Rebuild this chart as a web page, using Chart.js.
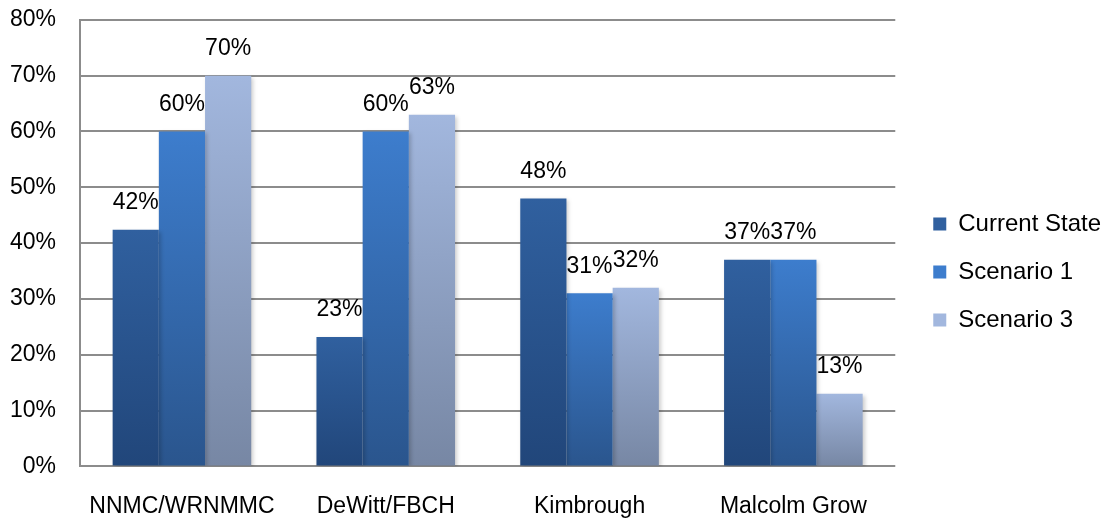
<!DOCTYPE html>
<html>
<head>
<meta charset="utf-8">
<script src="https://cdn.jsdelivr.net/npm/chart.js@4"></script>
<style>
  html, body { margin: 0; padding: 0; background: #fff; }
  #wrap { position: relative; width: 1107px; height: 521px; overflow: hidden; }
  #area { position: absolute; left: -14px; top: -18px; width: 1119px; height: 556px; }
</style>
</head>
<body>
<div id="wrap"><div id="area"><canvas id="grafico"></canvas></div></div>
<script>
const categorias = ['NNMC/WRNMMC', 'DeWitt/FBCH', 'Kimbrough', 'Malcolm Grow'];
const currentState = [42.4, 23.2, 48, 37];
const scenario1 = [60, 60, 31, 37];
const scenario3 = [70, 63, 32, 13];
const yTicks = [0, 10, 20, 30, 40, 50, 60, 70, 80];

const fonte = '"Liberation Sans", Arial, sans-serif';

// top / bottom colours of each series gradient
const cores = {
    current: ['#30609f', '#21467a'],
    s1: ['#3d7dcd', '#2a558d'],
    s3: ['#a2b7de', '#7787a4']
};

function gradiente(par) {
    return function(context) {
        const chart = context.chart;
        if (!chart.chartArea || context.parsed === undefined) return par[0];
        const y = chart.scales.y;
        const top = y.getPixelForValue(context.parsed.y);
        const base = y.getPixelForValue(0);
        if (!isFinite(top) || base - top < 1) return par[0];
        const g = chart.ctx.createLinearGradient(0, top, 0, base);
        g.addColorStop(0, par[0]);
        g.addColorStop(1, par[1]);
        return g;
    };
}

const rotulos = {
    id: 'rotulos',
    afterDatasetsDraw(chart) {
        const ctx = chart.ctx;
        ctx.save();
        ctx.font = '23px ' + fonte;
        ctx.fillStyle = '#000';
        ctx.textAlign = 'center';
        ctx.textBaseline = 'middle';
        chart.data.datasets.forEach((ds, i) => {
            chart.getDatasetMeta(i).data.forEach((bar, j) => {
                ctx.fillText(Math.round(ds.data[j]) + '%', bar.x, bar.y - 27);
            });
        });
        ctx.restore();
    }
};

const sombra = {
    id: 'sombra',
    beforeDatasetsDraw(chart) {
        chart.ctx.save();
        chart.ctx.shadowColor = 'rgba(0,0,0,0.2)';
        chart.ctx.shadowBlur = 4;
        chart.ctx.shadowOffsetX = 2;
        chart.ctx.shadowOffsetY = 2;
    },
    afterDatasetsDraw(chart) {
        chart.ctx.restore();
    }
};

// nudge the legend a little right and down
const moverLegenda = {
    id: 'moverLegenda',
    afterLayout(chart) {
        const lg = chart.legend;
        if (!lg) return;
        lg.left += 14; lg.right += 14;
        lg.top += 12; lg.bottom += 12;
    }
};

const ctxGrafico = document.getElementById('grafico').getContext('2d');
const barChart = new Chart(ctxGrafico, {
    type: 'bar',
    data: {
        labels: categorias,
        datasets: [
            { label: 'Current State', data: currentState, backgroundColor: gradiente(cores.current) },
            { label: 'Scenario 1', data: scenario1, backgroundColor: gradiente(cores.s1) },
            { label: 'Scenario 3', data: scenario3, backgroundColor: gradiente(cores.s3) }
        ]
    },
    options: {
        responsive: true,
        maintainAspectRatio: false,
        animation: false,
        layout: { padding: { top: 0, left: 0, right: 8, bottom: 0 } },
        datasets: { bar: { categoryPercentage: 0.68, barPercentage: 1 } },
        plugins: {
            legend: {
                position: 'right',
                labels: {
                    font: { size: 24, family: fonte },
                    color: '#000',
                    boxWidth: 13,
                    boxHeight: 13,
                    padding: 24,
                    generateLabels(chart) {
                        const c = [cores.current[0], cores.s1[0], cores.s3[0]];
                        return chart.data.datasets.map((ds, i) => ({
                            text: ds.label,
                            fillStyle: c[i],
                            strokeStyle: c[i],
                            lineWidth: 0,
                            datasetIndex: i
                        }));
                    }
                }
            },
            tooltip: { enabled: false }
        },
        scales: {
            x: {
                grid: { display: false },
                border: { display: false },
                ticks: {
                    color: '#000',
                    font: { size: 23, family: fonte },
                    padding: 18
                }
            },
            y: {
                min: 0,
                max: 80,
                afterBuildTicks(axis) {
                    axis.ticks = yTicks.map(v => ({ value: v }));
                },
                grid: { color: '#8c8c8c', lineWidth: 2, tickLength: 0 },
                border: { color: '#8c8c8c', width: 2 },
                ticks: {
                    color: '#000',
                    font: { size: 23, family: fonte },
                    padding: 24,
                    callback: function(value) {
                        return value + '%';
                    }
                }
            }
        }
    },
    plugins: [sombra, rotulos, moverLegenda]
});
</script>
</body>
</html>
